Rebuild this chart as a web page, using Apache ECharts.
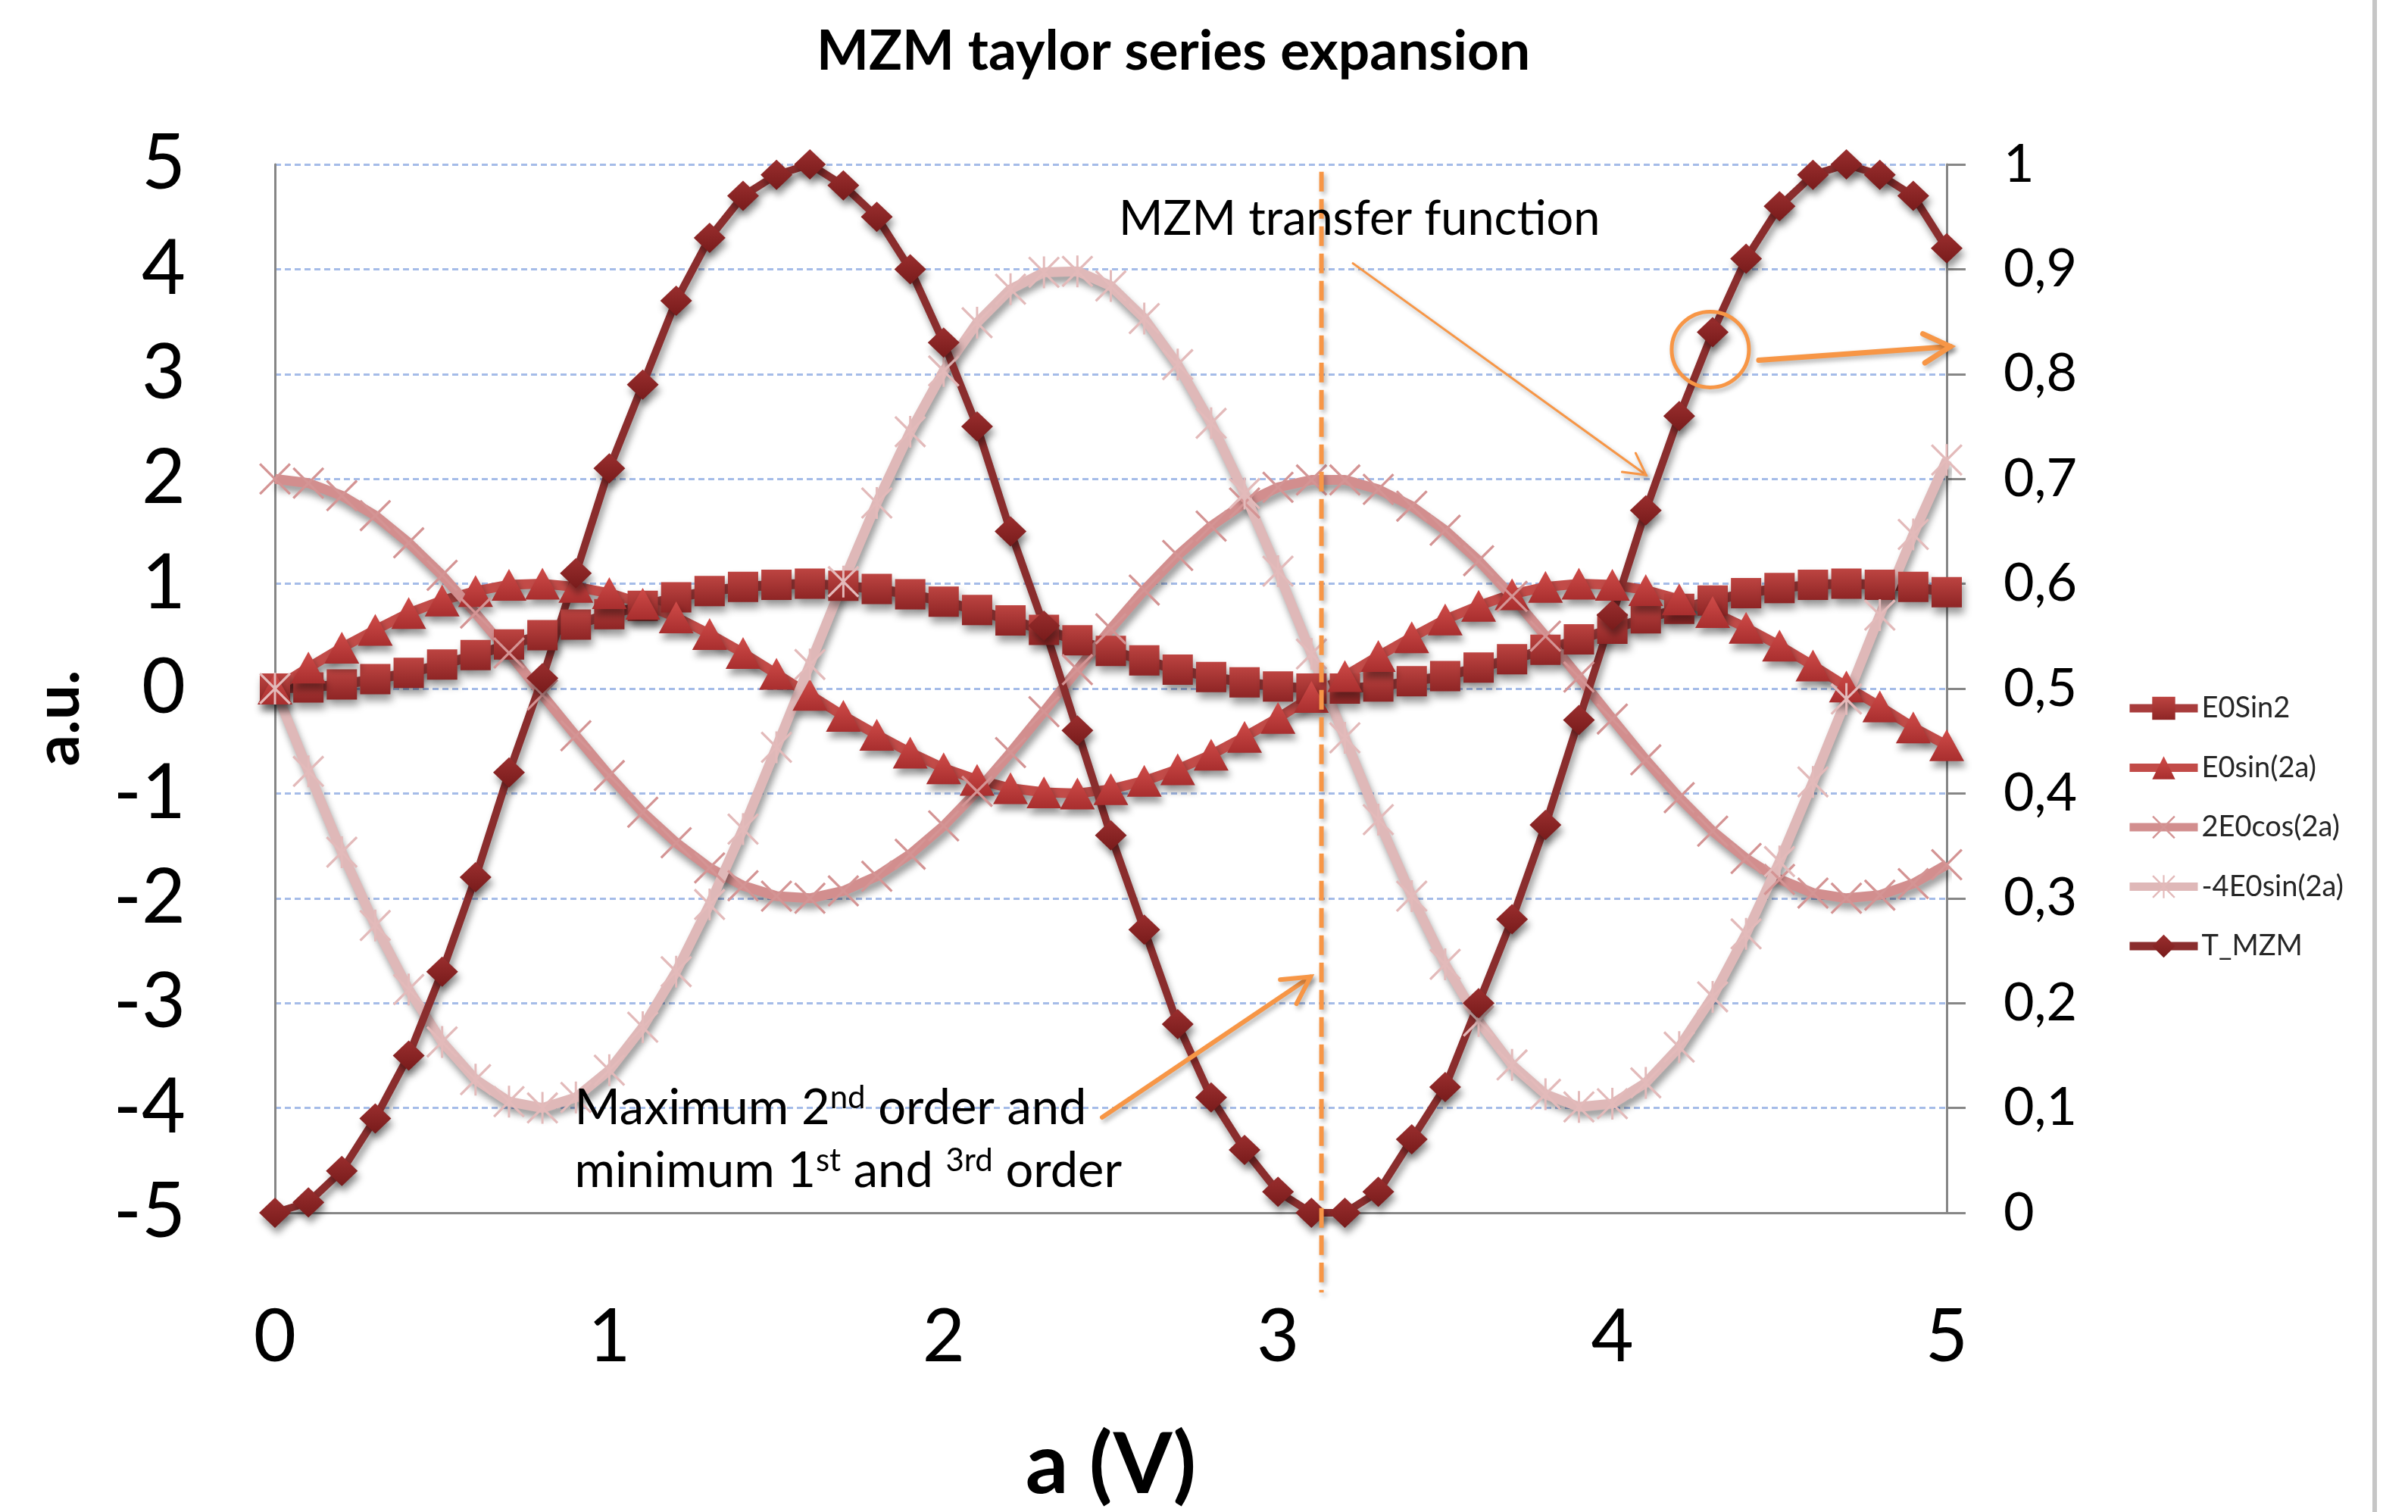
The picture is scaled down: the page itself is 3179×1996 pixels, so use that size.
<!DOCTYPE html>
<html><head><meta charset="utf-8">
<script src="https://cdn.jsdelivr.net/npm/echarts@6/dist/echarts.min.js"></script>
<style>html,body{margin:0;padding:0;background:#fff}#c{width:3179px;height:1996px}</style>
</head><body><div id="c"></div>
<script>
// ---------- data ----------
const aValues = [0,0.1,0.2,0.3,0.4,0.5,0.6,0.7,0.8,0.9,1,1.1,1.2,1.3,1.4,1.5,1.6,1.7,1.8,1.9,2,2.1,2.2,2.3,2.4,2.5,2.6,2.7,2.8,2.9,3,3.1,3.2,3.3,3.4,3.5,3.6,3.7,3.8,3.9,4,4.1,4.2,4.3,4.4,4.5,4.6,4.7,4.8,4.9,5];
const e0Sin2 = [0,0.01,0.04,0.09,0.15,0.23,0.32,0.42,0.51,0.61,0.71,0.79,0.87,0.93,0.97,0.99,1.00,0.98,0.95,0.90,0.83,0.75,0.65,0.56,0.46,0.36,0.27,0.18,0.11,0.06,0.02,0.00,0.00,0.02,0.07,0.12,0.20,0.28,0.37,0.47,0.57,0.67,0.76,0.84,0.91,0.96,0.99,1.00,0.99,0.97,0.92];
const e0Sin2a = [0,0.20,0.39,0.56,0.72,0.84,0.93,0.99,1.00,0.97,0.91,0.81,0.68,0.52,0.34,0.14,-0.06,-0.26,-0.44,-0.61,-0.76,-0.87,-0.95,-0.99,-1.00,-0.96,-0.88,-0.77,-0.63,-0.46,-0.28,-0.08,0.12,0.31,0.49,0.66,0.79,0.90,0.97,1.00,0.99,0.94,0.85,0.73,0.58,0.41,0.22,0.02,-0.17,-0.37,-0.54];
const twoE0Cos2a = [2.00,1.96,1.84,1.65,1.39,1.08,0.72,0.34,-0.06,-0.45,-0.83,-1.18,-1.47,-1.71,-1.88,-1.98,-2.00,-1.93,-1.79,-1.58,-1.31,-0.98,-0.61,-0.22,0.18,0.57,0.94,1.27,1.55,1.77,1.92,1.99,1.99,1.90,1.74,1.51,1.22,0.88,0.50,0.11,-0.29,-0.68,-1.04,-1.36,-1.62,-1.82,-1.95,-2.00,-1.97,-1.86,-1.68];
const minus4E0Sin2a = [0,-0.79,-1.56,-2.26,-2.87,-3.37,-3.73,-3.94,-4.00,-3.90,-3.64,-3.23,-2.70,-2.06,-1.34,-0.56,0.23,1.02,1.77,2.45,3.03,3.49,3.81,3.97,3.98,3.84,3.53,3.09,2.53,1.86,1.12,0.33,-0.47,-1.25,-1.98,-2.63,-3.17,-3.59,-3.87,-3.99,-3.96,-3.76,-3.42,-2.94,-2.34,-1.65,-0.89,-0.10,0.70,1.47,2.18];
const tMzm = [0,0.01,0.04,0.09,0.15,0.23,0.32,0.42,0.51,0.61,0.71,0.79,0.87,0.93,0.97,0.99,1.00,0.98,0.95,0.90,0.83,0.75,0.65,0.56,0.46,0.36,0.27,0.18,0.11,0.06,0.02,0.00,0.00,0.02,0.07,0.12,0.20,0.28,0.37,0.47,0.57,0.67,0.76,0.84,0.91,0.96,0.99,1.00,0.99,0.97,0.92];
const seriesNames = ['E0Sin2','E0sin(2a)','2E0cos(2a)','-4E0sin(2a)','T_MZM'];
const xTickRange = [0, 5, 1];
const leftTickRange = [-5, 5, 1];
const rightTickRange = [0, 1, 0.1];
const chartTitle = 'MZM taylor series expansion';
const xAxisTitle = 'a (V)';
const yAxisTitle = 'a.u.';
const noteTransfer = 'MZM transfer function';
const noteOrders = '{n|Maximum 2}{s|nd}{n| order and}\n{n|minimum 1}{s|st}{n| and }{s|3rd}{n| order}';
const markerA = 3.13; // position of the dashed vertical line (a, V)

// ---------- styling ----------
const FONT = 'Lato, "Liberation Sans", sans-serif';
const ORANGE = '#f79646';
const AXIS = '#868686';
const zip = ys => aValues.map((a, i) => [a, ys[i]]);
const sh = {shadowColor:'rgba(0,0,0,0.4)', shadowBlur:10, shadowOffsetX:3, shadowOffsetY:8};
const grad = (c1, c2) => new echarts.graphic.LinearGradient(0,0,0,1,[{offset:0,color:c1},{offset:1,color:c2}]);
const X_PATH = 'path://M0,1.1L1.1,0L10,8.9L18.9,0L20,1.1L11.1,10L20,18.9L18.9,20L10,11.1L1.1,20L0,18.9L8.9,10Z';
const STAR_PATH = 'path://M0,1.1L1.1,0L10,8.9L18.9,0L20,1.1L11.1,10L20,18.9L18.9,20L10,11.1L1.1,20L0,18.9L8.9,10ZM9.3,0L10.7,0L10.7,20L9.3,20Z';

const chart = echarts.init(document.getElementById('c'));

const common = {type:'line', clip:false, showAllSymbol:true, animation:false, emphasis:{disabled:true}};
chart.setOption({
  animation:false,
  backgroundColor:'#fff',
  grid:{left:363, right:609, top:217, bottom:392, containLabel:false},
  legend:{
    orient:'vertical', left:2806, top:916, padding:0,
    itemWidth:90, itemHeight:38, itemGap:40.5, selectedMode:false,
    lineStyle:{width:11},
    textStyle:{fontSize:38, fontFamily:FONT, color:'#262626', lineHeight:38},
    data:seriesNames
  },
  xAxis:{
    type:'value', min:xTickRange[0], max:xTickRange[1], interval:xTickRange[2],
    axisLine:{show:true, onZero:false, lineStyle:{color:AXIS, width:3}},
    axisTick:{show:false}, splitLine:{show:false},
    axisLabel:{fontSize:97, fontFamily:FONT, color:'#000', margin:116},
    name:xAxisTitle, nameLocation:'middle', nameGap:278,
    nameTextStyle:{fontSize:112, fontWeight:'bold', fontFamily:FONT, color:'#000'}
  },
  yAxis:[{
    type:'value', position:'left', min:leftTickRange[0], max:leftTickRange[1], interval:leftTickRange[2],
    axisLine:{show:true, lineStyle:{color:AXIS, width:3}},
    axisTick:{show:false},
    axisLabel:{fontSize:100, fontFamily:FONT, color:'#000', margin:118},
    splitLine:{show:true, lineStyle:{color:'#a5bce8', width:3, type:[8,5]}}
  },{
    type:'value', position:'right', min:rightTickRange[0], max:rightTickRange[1], interval:rightTickRange[2],
    axisLine:{show:true, lineStyle:{color:AXIS, width:3}},
    axisTick:{show:true, inside:false, length:25, lineStyle:{color:AXIS, width:3}},
    axisLabel:{fontSize:70, fontFamily:FONT, color:'#000', margin:75,
      formatter:v => String(Math.round(v*10)/10).replace('.', ',')},
    splitLine:{show:false}
  }],
  series:[
    Object.assign({}, common, {name:seriesNames[0], yAxisIndex:0, data:zip(e0Sin2),
      symbol:'rect', symbolSize:40,
      lineStyle:Object.assign({color:'#a83c3c', width:13}, sh),
      itemStyle:Object.assign({color:grad('#bd4441','#8e2525')}, sh)}),
    Object.assign({}, common, {name:seriesNames[1], yAxisIndex:0, data:zip(e0Sin2a),
      symbol:'triangle', symbolSize:[46,42],
      lineStyle:Object.assign({color:'#c24b48', width:13}, sh),
      itemStyle:Object.assign({color:grad('#d04c49','#a82e2e')}, sh)}),
    Object.assign({}, common, {name:seriesNames[2], yAxisIndex:0, data:zip(twoE0Cos2a),
      symbol:X_PATH, symbolSize:42,
      lineStyle:Object.assign({color:'#d28e8e', width:13}, sh),
      itemStyle:{color:'#d49494'}}),
    Object.assign({}, common, {name:seriesNames[3], yAxisIndex:0, data:zip(minus4E0Sin2a),
      symbol:STAR_PATH, symbolSize:42,
      lineStyle:Object.assign({color:'#dfb8b8', width:13}, sh),
      itemStyle:{color:'#e3baba'}}),
    Object.assign({}, common, {name:seriesNames[4], yAxisIndex:1, data:zip(tMzm),
      symbol:'diamond', symbolSize:[42,40],
      lineStyle:Object.assign({color:'#8a2d2d', width:10}, sh),
      itemStyle:Object.assign({color:grad('#9a2e2e','#781b1b')}, sh)})
  ]
});

// ---------- annotations placed through the axes ----------
const P = (a, v) => chart.convertToPixel({xAxisIndex:0, yAxisIndex:0}, [a, v]);
const ash = {shadowColor:'rgba(0,0,0,0.3)', shadowBlur:6, shadowOffsetX:3, shadowOffsetY:4};
function arrow(p0, p1, w, headLen) {
  const dx = p1[0]-p0[0], dy = p1[1]-p0[1], L = Math.hypot(dx, dy), ux = dx/L, uy = dy/L;
  const ang = 0.5;
  const rot = (t) => [p1[0] - headLen*(ux*Math.cos(t) - uy*Math.sin(t)), p1[1] - headLen*(uy*Math.cos(t) + ux*Math.sin(t))];
  return [
    {type:'line', z:100, shape:{x1:p0[0], y1:p0[1], x2:p1[0], y2:p1[1]},
     style:Object.assign({stroke:ORANGE, lineWidth:w, lineCap:'round'}, ash)},
    {type:'polyline', z:100, shape:{points:[rot(ang), p1, rot(-ang)]},
     style:Object.assign({stroke:ORANGE, lineWidth:w, fill:'none', lineCap:'round', lineJoin:'miter'}, ash)}
  ];
}
const dTop = P(markerA, 4.93), dBot = P(markerA, -5.76);
const tPos = P(2.524, 4.474);
const cPos = P(4.293, 3.234);
const oPos = P(0.896, -3.706);
const H = chart.getHeight();
const graphics = [
  {type:'text', z:100, x:1549, y:68, style:{text:chartTitle, fontSize:73, fontWeight:'bold', fontFamily:FONT, fill:'#000', align:'center', verticalAlign:'middle'}},
  {type:'text', z:100, x:78, y:948, rotation:Math.PI/2, style:{text:yAxisTitle, fontSize:82, fontWeight:'bold', fontFamily:FONT, fill:'#000', align:'center', verticalAlign:'middle'}},
  {type:'line', z:90, shape:{x1:3135, y1:0, x2:3135, y2:H}, style:{stroke:'#c6c6c6', lineWidth:6}},
  {type:'line', z:95, shape:{x1:dTop[0], y1:dTop[1], x2:dBot[0], y2:dBot[1]},
   style:Object.assign({stroke:ORANGE, lineWidth:6, lineDash:[26,10]}, ash)},
  {type:'text', z:100, x:tPos[0], y:tPos[1], style:{text:noteTransfer, fontSize:63, fontFamily:FONT, fill:'#000', align:'left', verticalAlign:'middle'}},
  {type:'ellipse', z:100, shape:{cx:cPos[0], cy:cPos[1], rx:51, ry:50}, style:Object.assign({stroke:ORANGE, lineWidth:5, fill:'none'}, ash)},
  {type:'text', z:100, x:oPos[0], y:oPos[1], style:{text:noteOrders, align:'left', verticalAlign:'top',
    rich:{n:{fontSize:65, fontFamily:FONT, fill:'#000', color:'#000', lineHeight:83},
          s:{fontSize:42, fontFamily:FONT, fill:'#000', color:'#000', lineHeight:83, verticalAlign:'top', height:56}}}}
]
  .concat(arrow(P(3.224, 4.056), P(4.101, 2.037), 3, 32))
  .concat(arrow(P(4.438, 3.133), P(5.011, 3.263), 7, 40))
  .concat(arrow(P(2.474, -4.09), P(3.097, -2.75), 6, 40));
chart.setOption({graphic:graphics});
</script>
</body></html>
